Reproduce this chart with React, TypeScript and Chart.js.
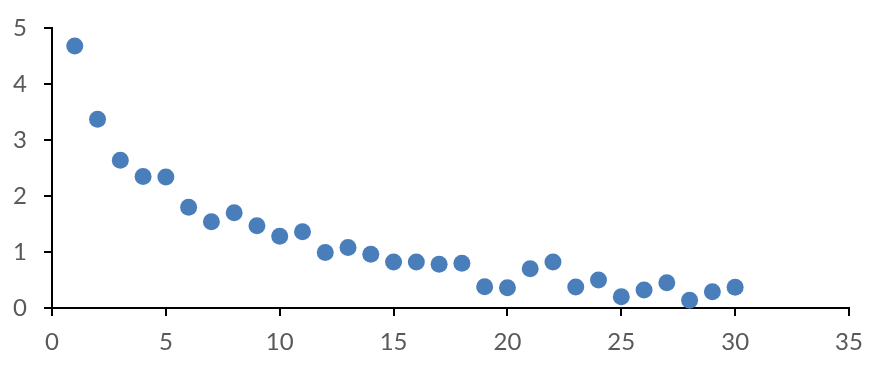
import React, { useEffect, useRef } from "react";
import { Chart, registerables } from "chart.js";

Chart.register(...registerables);

const xValues = [1, 2, 3, 4, 5, 6, 7, 8, 9, 10, 11, 12, 13, 14, 15, 16, 17, 18, 19, 20, 21, 22, 23, 24, 25, 26, 27, 28, 29, 30];
const yValues = [4.68, 3.37, 2.64, 2.35, 2.34, 1.8, 1.54, 1.7, 1.47, 1.28, 1.36, 0.99, 1.08, 0.96, 0.82, 0.82, 0.78, 0.8, 0.38, 0.36, 0.7, 0.82, 0.375, 0.5, 0.2, 0.32, 0.45, 0.14, 0.29, 0.37];
const xTicks = [0, 5, 10, 15, 20, 25, 30, 35];
const yTicks = [0, 1, 2, 3, 4, 5];

export default function App() {
  const ref = useRef<HTMLCanvasElement | null>(null);
  useEffect(() => {
    document.body.style.margin = "0";
    const ctx = ref.current!;
    const tickFont = { family: "Lato, 'Noto Sans', sans-serif", size: 24 };
    const chart = new Chart(ctx, {
      type: "scatter",
      data: {
        datasets: [
          {
            data: xValues.map((x, i) => ({ x, y: yValues[i] })),
            backgroundColor: "#4a7ebb",
            borderColor: "#4a7ebb",
            borderWidth: 0,
            pointRadius: 8.5,
            pointHoverRadius: 8.5,
            clip: false as any,
          },
        ],
      },
      options: {
        animation: false,
        responsive: false,
        maintainAspectRatio: false,
        layout: { padding: { top: 28, right: 30, left: 0, bottom: 0 } },
        plugins: { legend: { display: false }, tooltip: { enabled: false } },
        scales: {
          x: {
            type: "linear",
            min: 0,
            max: 35,
            afterBuildTicks: (s: any) => {
              s.ticks = xTicks.map((v) => ({ value: v }));
            },
            afterFit: (s: any) => {
              s.height = 58;
              s.paddingLeft = 0;
              s.paddingRight = 0;
            },
            grid: { drawOnChartArea: false, drawTicks: true, tickLength: 8, color: "#000", lineWidth: 2 },
            border: { display: true, color: "#000", width: 2 },
            ticks: { color: "#595959", font: tickFont, padding: 12, maxRotation: 0 },
          },
          y: {
            type: "linear",
            min: 0,
            max: 5,
            afterBuildTicks: (s: any) => {
              s.ticks = yTicks.map((v) => ({ value: v }));
            },
            afterFit: (s: any) => {
              s.width = 52;
              s.paddingTop = 0;
              s.paddingBottom = 0;
            },
            grid: { drawOnChartArea: false, drawTicks: true, tickLength: 8, color: "#000", lineWidth: 2 },
            border: { display: true, color: "#000", width: 2 },
            ticks: { color: "#595959", font: tickFont, padding: 17 },
          },
        },
      },
    });
    return () => chart.destroy();
  }, []);
  return (
    <div style={{ position: "fixed", left: 0, top: 0, width: 879, height: 366, background: "#fff" }}>
      <canvas ref={ref} width={879} height={366} style={{ width: 879, height: 366 }} />
    </div>
  );
}
